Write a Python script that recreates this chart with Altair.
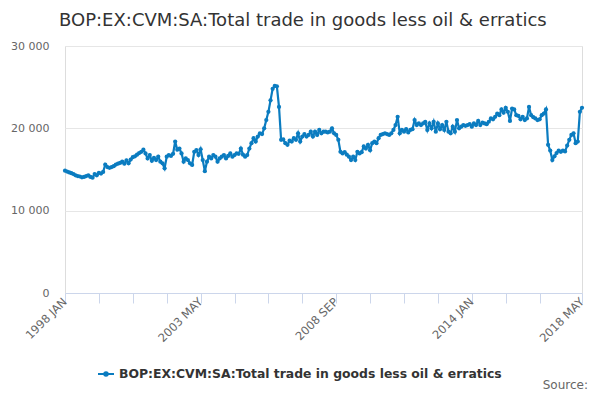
import altair as alt
import pandas as pd

series_name = "BOP:EX:CVM:SA:Total trade in goods less oil & erratics"
month_names = ["JAN", "FEB", "MAR", "APR", "MAY", "JUN",
               "JUL", "AUG", "SEP", "OCT", "NOV", "DEC"]

values = [
    14850, 14750, 14650, 14550, 14450, 14300, 14200, 14150, 14050, 14100, 14200, 14300,
    14100, 14000, 14450, 14300, 14600, 14500, 14700, 15600, 15300, 15200, 15300, 15400,
    15600, 15700, 15800, 15950, 15700, 16100, 15750, 16200, 16500, 16600, 16800, 17000,
    17150, 17400, 16950, 16350, 16750, 16050, 16400, 16150, 16550, 15950, 15750, 15150,
    16550, 16750, 16650, 16900, 18400, 17400, 17550, 16950, 15950, 16350, 16150, 15750,
    15550, 17150, 17350, 16750, 17450, 16150, 14800, 15950, 16550, 16350, 16750, 16550,
    15950, 16350, 16550, 16750, 16350, 16650, 16950, 16550, 16750, 16950, 16900, 17550,
    16800, 16550, 16750, 17550, 18200, 18800, 18400, 19000, 19400, 19300, 20000, 21000,
    22000, 23400, 24800, 25150, 25100, 22600, 18600, 18650, 18200, 18000, 18500, 18400,
    18800, 18600, 19400, 18400, 19000, 19300, 19000, 19200, 19600, 19000, 19600, 19200,
    19800, 19400, 19600, 19600, 19500, 19600, 20000, 19400, 19200, 18600, 17150, 16950,
    17100, 16800, 16550, 16150, 16550, 16150, 17150, 16950, 17100, 17800, 17550, 18000,
    17350, 18200, 18400, 18200, 18800, 19200, 19300, 19400, 19300, 19200, 19400, 19800,
    20400, 21400, 19400, 19800, 19600, 19900, 19500, 19800, 19900, 21000, 20400, 20600,
    20400, 20600, 20800, 19800, 20600, 20000, 20800, 19600, 20600, 19900, 20400, 19800,
    20800, 19600, 19400, 20200, 19600, 21000, 20000, 20200, 20400, 20300, 20400, 20500,
    20200, 20600, 20400, 20900, 20400, 20700, 20600, 20500, 20800, 21200, 21100, 21400,
    21800, 21600, 22300, 21900, 22500, 22000, 20900, 22400, 22300, 21600, 21500, 21100,
    21400, 21000, 21200, 22600, 21600, 21350, 21200, 21000, 21100, 21600, 21800, 22300,
    18000, 17300, 16150, 16600, 17000, 17300, 17150, 17300, 17200, 17900, 18600, 19200,
    19400, 18200, 18400, 22000, 22500,
]

months = [f"{1998 + k // 12} {month_names[k % 12]}" for k in range(len(values))]
tick_positions = [0, 16, 32, 48, 64, 80, 96, 112, 128, 144, 160, 176, 192, 208, 224, 244]
tick_labels = {0: "1998 JAN", 64: "2003 MAY", 128: "2008 SEP", 192: "2014 JAN", 244: "2018 MAY"}
y_ticks = [0, 10000, 20000, 30000]

label_expr = " : ".join(
    f"datum.value == {k} ? '{v}'" for k, v in tick_labels.items()
) + " : ''"

df = pd.DataFrame({
    "idx": list(range(len(values))),
    "month": months,
    "value": values,
    "series": series_name,
})

blue = "#0b7cc0"
font = "DejaVu Sans"

legend_path = ("M-1,0L1,0M-0.22,0A0.22,0.22,0,1,1,0.22,0"
               "A0.22,0.22,0,1,1,-0.22,0Z")

line = alt.Chart(df).mark_line(
    strokeWidth=2.2,
    point=alt.OverlayMarkDef(size=18, filled=True, color=blue),
).encode(
    x=alt.X("idx:Q",
            scale=alt.Scale(domain=[0, 244], nice=False, zero=False),
            axis=alt.Axis(values=tick_positions, labelExpr=label_expr,
                          labelAngle=-45, labelAlign="right", labelBaseline="middle",
                          title=None, grid=False, domainColor="#ccd6eb",
                          tickColor="#ccd6eb", tickSize=10, labelColor="#666666",
                          labelFontSize=11.5, labelFont=font, labelPadding=-3,
                          labelOverlap=False, labelFlush=False)),
    y=alt.Y("value:Q",
            scale=alt.Scale(domain=[0, 30000], nice=False),
            axis=alt.Axis(values=y_ticks,
                          labelExpr="replace(format(datum.value, ','), ',', ' ')",
                          title=None, domain=False, ticks=False,
                          gridColor="#e6e6e6", labelColor="#666666",
                          labelFontSize=11, labelFont=font, labelPadding=16)),
    color=alt.Color("series:N", scale=alt.Scale(range=[blue]),
                    legend=alt.Legend(title=None, orient="none", legendX=32, legendY=319,
                                      symbolType=legend_path, symbolSize=256,
                                      symbolStrokeWidth=2, symbolFillColor=blue,
                                      symbolStrokeColor=blue, labelLimit=0,
                                      labelFontSize=12.4, labelFontWeight="bold",
                                      labelColor="#333333", labelFont=font)),
)

source = alt.Chart(pd.DataFrame({"t": ["Source:"]})).mark_text(
    align="right", baseline="middle", font=font, fontSize=12, color="#666666"
).encode(x=alt.value(523), y=alt.value(339), text="t:N")

chart = alt.layer(line, source).properties(
    width=517,
    height=247,
    autosize=alt.AutoSizeParams(type="none"),
    padding={"left": 57, "top": 38, "right": 8, "bottom": 100},
    title=alt.TitleParams(series_name, anchor="start", frame="group", dx=-6,
                          fontSize=18, font=font, fontWeight="normal",
                          color="#333333", offset=10),
).configure_view(stroke=None).configure(background="white")

chart.save("out.html", embed_options={"renderer": "svg", "actions": False})
